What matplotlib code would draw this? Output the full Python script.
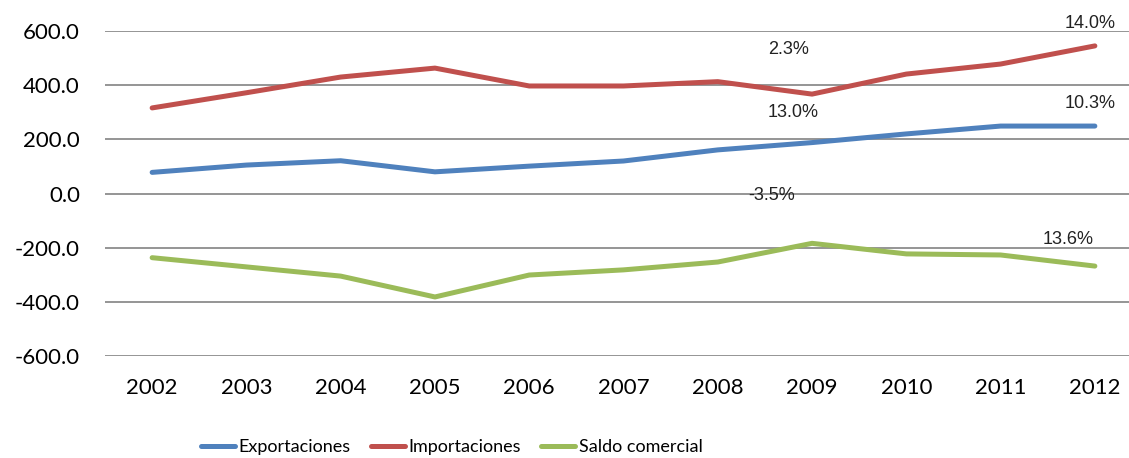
import matplotlib
matplotlib.use("Agg")
import matplotlib.pyplot as plt

# Datos
anios = ["2002", "2003", "2004", "2005", "2006", "2007", "2008", "2009", "2010", "2011", "2012"]
exportaciones = [78, 105, 121, 80, 101, 120, 161, 188, 220, 249, 249]
importaciones = [316, 372, 430, 463, 397, 397, 413, 367, 441, 478, 545]
saldo_comercial = [-237, -271, -305, -382, -301, -282, -253, -184, -223, -227, -268]

# Etiquetas de variación (serie, índice del año, texto)
etiquetas = [
    ("imp", 7, "2.3%"), ("exp", 7, "13.0%"), ("sal", 7, "-3.5%"),
    ("imp", 10, "14.0%"), ("exp", 10, "10.3%"), ("sal", 10, "13.6%"),
]

azul = "#4F81BD"
rojo = "#C0504D"
verde = "#9BBB59"

fig = plt.figure(figsize=(11.29, 4.58), dpi=100)
ax = fig.add_axes([105 / 1129, 1 - 356 / 458, 1037 / 1129, 325 / 458])

x = list(range(len(anios)))
ax.plot(x, exportaciones, color=azul, lw=3.6, solid_capstyle="round", label="Exportaciones", zorder=3)
ax.plot(x, importaciones, color=rojo, lw=3.6, solid_capstyle="round", label="Importaciones", zorder=3)
ax.plot(x, saldo_comercial, color=verde, lw=3.6, solid_capstyle="round", label="Saldo comercial", zorder=3)

series = {"exp": exportaciones, "imp": importaciones, "sal": saldo_comercial}
desplazamientos = {
    (7, "imp"): (-23, 45), (7, "exp"): (-19, 30), (7, "sal"): (-40, 48),
    (10, "imp"): (-5, 22), (10, "exp"): (-5, 23), (10, "sal"): (-27, 27),
}
for s, i, txt in etiquetas:
    ax.annotate(txt, xy=(i, series[s][i]), xytext=desplazamientos[(i, s)],
                textcoords="offset pixels", ha="center", va="center",
                fontsize=13, family="Liberation Sans", color="#222222", zorder=4)

ax.set_xlim(-0.5, 10.5)
ax.set_ylim(-600, 600)
ax.set_yticks([-600, -400, -200, 0, 200, 400, 600])
ax.set_yticklabels([f"{v:.1f}" for v in ax.get_yticks()])
ax.set_xticks(x)
ax.set_xticklabels(anios)
ax.grid(axis="y", color="#8C8C8C", lw=1.3)
ax.set_axisbelow(True)
for sp in ax.spines.values():
    sp.set_visible(False)
ax.tick_params(length=0, labelsize=16)
ax.tick_params(axis="y", pad=18)
ax.tick_params(axis="x", pad=16)
for t in ax.get_xticklabels() + ax.get_yticklabels():
    t.set_family("Lato")

leg = fig.legend(loc="center", bbox_to_anchor=(0.40, 0.024), ncol=3, frameon=False,
                 handlelength=1.9, handletextpad=0.2, columnspacing=1.1,
                 prop={"family": "Lato", "size": 13})

fig.savefig("out.png", dpi=100)
